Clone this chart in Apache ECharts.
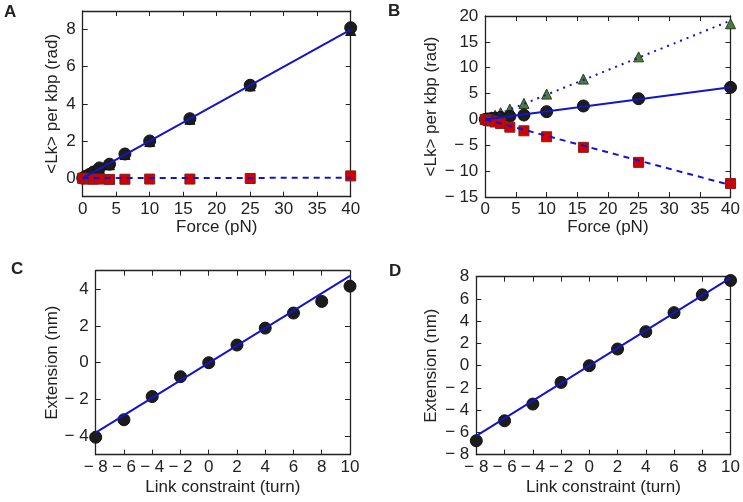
<!DOCTYPE html>
<html>
<head>
<meta charset="utf-8">
<script src="https://cdn.jsdelivr.net/npm/echarts@6/dist/echarts.min.js"></script>
<style>
  html, body { margin: 0; padding: 0; background: #fff; }
  #chart { width: 743px; height: 502px; }
</style>
</head>
<body>
<div id="chart"></div>
<script>
// force values (pN), shared by panels A and B
const force = [0, 0.25, 0.5, 1, 1.6, 2.5, 4, 6.3, 10, 16, 25, 40];

// panel A
const aCircle = [0, 0.05, 0.1, 0.2, 0.33, 0.55, 0.75, 1.3, 2.0, 3.2, 5.0, 8.1];
const aTriangle = [0, 0.05, 0.1, 0.19, 0.31, 0.52, 0.72, 1.27, 1.97, 3.17, 4.97, 7.95];
const aSquare = [0, -0.02, -0.03, -0.05, -0.05, -0.05, -0.07, -0.06, -0.05, -0.05, -0.02, 0.12];
const aFitSolid = [[0, 0], [40, 8.0]];
const aFitDashed = [[0, 0], [40, 0.02]];

// panel B
const bCircle = [0, 0.04, 0.08, 0.16, 0.26, 0.4, 0.6, 0.85, 1.5, 2.6, 4.0, 6.2];
const bTriangle = [0, 0.12, 0.25, 0.5, 0.8, 1.3, 2.0, 3.1, 4.9, 7.8, 12.1, 18.5];
const bSquare = [0, -0.08, -0.15, -0.3, -0.5, -0.8, -1.5, -2.2, -3.35, -5.4, -8.3, -12.4];
const bFitSolid = [[0, 0], [40, 6.2]];
const bFitDotted = [[0, 0], [40, 19.1]];
const bFitDashed = [[0, 0], [40, -12.7]];

// panels C and D
const link = [-8, -6, -4, -2, 0, 2, 4, 6, 8, 10];
const cExt = [-4.05, -3.1, -1.84, -0.76, 0, 0.96, 1.88, 2.7, 3.33, 4.16];
const cFit = [[-8, -3.8], [10, 4.72]];
const dExt = [-6.75, -4.95, -3.45, -1.5, 0, 1.5, 3.06, 4.77, 6.37, 7.66];
const dFit = [[-8, -6.3], [10, 7.9]];

// tick labels
const forceTicks = [0, 5, 10, 15, 20, 25, 30, 35, 40];
const linkTicks = [-8, -6, -4, -2, 0, 2, 4, 6, 8, 10];
const aYTicks = [0, 2, 4, 6, 8];
const bYTicks = [-15, -10, -5, 0, 5, 10, 15, 20];
const cYTicks = [-4, -2, 0, 2, 4];
const dYTicks = [-8, -6, -4, -2, 0, 2, 4, 6, 8];

const FONT = '"Liberation Sans", Arial, sans-serif';
const INK = '#222';
const BLUE = '#1414c8';
const fmt = v => (v < 0 ? '\u2212 ' + Math.abs(v) : String(v));

const myChart = echarts.init(document.getElementById('chart'));

const grids = [
  {left: 82.7, top: 11, width: 268, height: 185.7},
  {left: 485.3, top: 16, width: 245.4, height: 181},
  {left: 95.7, top: 270.7, width: 254.3, height: 184},
  {left: 476.3, top: 276.7, width: 254.7, height: 178}
];

const xCfg = [
  {min: 0, max: 40, ticks: forceTicks, name: 'Force (pN)', gap: 22},
  {min: 0, max: 40, ticks: forceTicks, name: 'Force (pN)', gap: 22},
  {min: -8, max: 10, ticks: linkTicks, name: 'Link constraint (turn)', gap: 24},
  {min: -8, max: 10, ticks: linkTicks, name: 'Link constraint (turn)', gap: 24}
];
const yCfg = [
  {min: -1, max: 9, ticks: aYTicks, name: '<Lk> per kbp (rad)', gap: 22},
  {min: -15, max: 20, ticks: bYTicks, name: '<Lk> per kbp (rad)', gap: 45},
  {min: -5, max: 5, ticks: cYTicks, name: 'Extension (nm)', gap: 35},
  {min: -8, max: 8, ticks: dYTicks, name: 'Extension (nm)', gap: 36}
];

const xAxis = [], yAxis = [];
const axisLine = {show: true, onZero: false, lineStyle: {color: INK, width: 1.3}};
grids.forEach((g, i) => {
  const xc = xCfg[i], yc = yCfg[i];
  xAxis.push({
    type: 'value', gridIndex: i, position: 'bottom', min: xc.min, max: xc.max,
    axisLine,
    axisTick: {show: true, inside: true, length: 5, customValues: xc.ticks, lineStyle: {color: INK}},
    axisLabel: {customValues: xc.ticks, formatter: fmt, color: INK, fontFamily: FONT, fontSize: 17, margin: 4},
    splitLine: {show: false},
    name: xc.name, nameLocation: 'middle', nameGap: xc.gap,
    nameTextStyle: {color: INK, fontFamily: FONT, fontSize: 17}
  });
  xAxis.push({
    type: 'value', gridIndex: i, position: 'top', min: xc.min, max: xc.max,
    axisLine,
    axisTick: {show: true, inside: true, length: 5, customValues: xc.ticks, lineStyle: {color: INK}},
    axisLabel: {show: false},
    splitLine: {show: false}
  });
  yAxis.push({
    type: 'value', gridIndex: i, position: 'left', min: yc.min, max: yc.max,
    axisLine,
    axisTick: {show: true, inside: true, length: 5, customValues: yc.ticks, lineStyle: {color: INK}},
    axisLabel: {customValues: yc.ticks, formatter: fmt, color: INK, fontFamily: FONT, fontSize: 17, margin: 7},
    splitLine: {show: false},
    name: yc.name, nameLocation: 'middle', nameGap: yc.gap,
    nameTextStyle: {color: INK, fontFamily: FONT, fontSize: 17}
  });
  yAxis.push({
    type: 'value', gridIndex: i, position: 'right', min: yc.min, max: yc.max,
    axisLine,
    axisTick: {show: true, inside: true, length: 5, customValues: yc.ticks, lineStyle: {color: INK}},
    axisLabel: {show: false},
    splitLine: {show: false}
  });
});

const pairs = (xs, ys) => xs.map((x, k) => [x, ys[k]]);

const styles = {
  circle: {symbol: 'circle', size: 12, color: '#1c1c1c', border: '#111'},
  square: {symbol: 'rect', size: 10, color: '#d40000', border: '#7a2222'},
  triangle: {symbol: 'triangle', size: 10, color: '#4b7c3b', border: '#2b3b28'},
  darkTriangle: {symbol: 'triangle', size: 10, color: '#262626', border: '#111'}
};

function markers(panel, xs, ys, kind) {
  const s = styles[kind];
  return {
    type: 'scatter', xAxisIndex: panel * 2, yAxisIndex: panel * 2,
    symbol: s.symbol, symbolSize: s.size, clip: false, z: 2,
    itemStyle: {color: s.color, borderColor: s.border, borderWidth: 1, opacity: 1},
    data: pairs(xs, ys)
  };
}

function fit(panel, data, type) {
  return {
    type: 'line', xAxisIndex: panel * 2, yAxisIndex: panel * 2,
    symbol: 'none', z: 5, clip: false,
    lineStyle: {color: BLUE, width: 2, type: type},
    data
  };
}

const option = {
  animation: false,
  backgroundColor: '#fff',
  grid: grids.map(g => Object.assign({containLabel: false}, g)),
  xAxis,
  yAxis,
  graphic: [
    {type: 'text', left: 4, top: 4, style: {text: 'A', font: 'bold 17px ' + FONT, fill: INK}},
    {type: 'text', left: 388, top: 3, style: {text: 'B', font: 'bold 17px ' + FONT, fill: INK}},
    {type: 'text', left: 11, top: 261, style: {text: 'C', font: 'bold 17px ' + FONT, fill: INK}},
    {type: 'text', left: 389, top: 263, style: {text: 'D', font: 'bold 17px ' + FONT, fill: INK}}
  ],
  series: [
    markers(0, force, aTriangle, 'darkTriangle'),
    markers(0, force, aCircle, 'circle'),
    markers(0, force, aSquare, 'square'),
    fit(0, aFitSolid, 'solid'),
    fit(0, aFitDashed, [6, 5]),

    markers(1, force, bTriangle, 'triangle'),
    markers(1, force, bCircle, 'circle'),
    markers(1, force, bSquare, 'square'),
    fit(1, bFitSolid, 'solid'),
    fit(1, bFitDotted, [2, 5]),
    fit(1, bFitDashed, [6, 5]),

    markers(2, link, cExt, 'circle'),
    fit(2, cFit, 'solid'),

    markers(3, link, dExt, 'circle'),
    fit(3, dFit, 'solid')
  ]
};

myChart.setOption(option);
</script>
</body>
</html>
